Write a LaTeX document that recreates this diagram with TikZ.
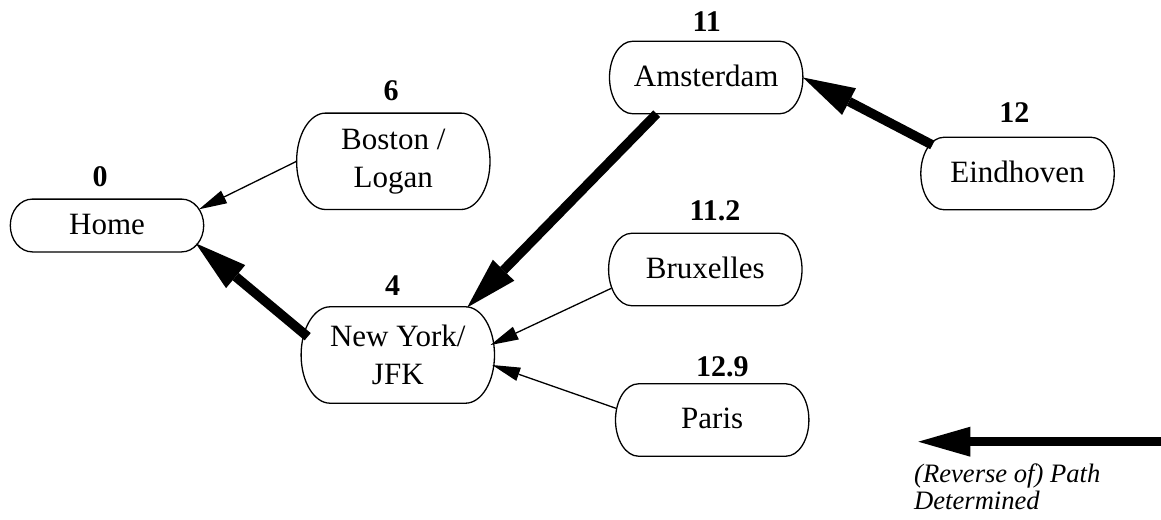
\documentclass[tikz,border=0pt]{standalone}
\usepackage{fontspec}
\setmainfont{Liberation Serif}
\usetikzlibrary{arrows.meta,calc}

% outline with half-elliptic ends: #1 node name, #2 horizontal radius of the ends
\newcommand\capsuleoutline[2]{%
  \draw[outline] let \p1=(#1.north west), \p2=(#1.south east), \n1={(\y1-\y2)/2} in
    (\x1+#2pt,\y1) -- (\x2-#2pt,\y1)
    arc[start angle=90,end angle=-90,x radius=#2pt,y radius=\n1]
    -- (\x1+#2pt,\y2)
    arc[start angle=270,end angle=90,x radius=#2pt,y radius=\n1] -- cycle;}

\tikzset{
  place/.style={inner sep=0pt, minimum width=193pt, align=center,
    font=\fontsize{31}{37.7}\selectfont},
  oneline/.style={place, minimum height=72pt, text height=22.5pt, text depth=5.5pt},
  twoline/.style={place, minimum height=96pt},
  cost/.style={anchor=base, inner sep=0pt, font=\fontsize{30}{36}\selectfont\bfseries},
  outline/.style={draw=black, line width=1.3pt},
  thinlink/.style={draw, line width=1.3pt,
    -{Triangle[length=28pt,width=14pt,line width'=0pt]}},
  pathlink/.style={draw, line width=9.5pt,
    -{Triangle[length=52pt,width=30pt,line width'=0pt]}},
}

\begin{document}
\begin{tikzpicture}[x=1pt,y=1pt]
\useasboundingbox (0,0) rectangle (1161,-519);

% places
\node[oneline, minimum height=52.4pt] (home) at (107,-225.5) {Home};
\node[twoline] (boston) at (393.3,-161.3) {Boston /\\Logan};
\node[twoline] (jfk) at (397.8,-355) {New York/\\JFK};
\node[oneline] (ams) at (706.2,-77.5) {Amsterdam};
\node[oneline] (ein) at (1017.5,-173.5) {Eindhoven};
\node[oneline] (bru) at (705.3,-269.5) {Bruxelles};
\node[oneline] (par) at (712.2,-420) {Paris};

\capsuleoutline{home}{22}
\capsuleoutline{boston}{29}
\capsuleoutline{jfk}{29}
\capsuleoutline{ams}{23}
\capsuleoutline{ein}{23}
\capsuleoutline{bru}{23}
\capsuleoutline{par}{23}

% distances
\node[cost] (c0) at (100,-186) {0};
\node[cost] (c6) at (391,-100) {6};
\node[cost] (c4) at (392.7,-295) {4};
\node[cost] (c11) at (706.7,-31.7) {11};
\node[cost] (c12) at (1014.3,-122.7) {12};
\node[cost] (c112) at (715,-220) {11.2};
\node[cost] (c129) at (722.3,-376) {12.9};

% links
\draw[thinlink] (boston.west) -- ([shift={(-4.7,16.2)}]home.east);
\draw[pathlink] ([shift={(6.6,18.3)}]jfk.west) -- ([shift={(-8,-17.8)}]home.east);
\draw[pathlink] ([xshift=-49.5pt]ams.south) -- ([shift={(-27.3,-0.6)}]jfk.north east);
\draw[pathlink] ([shift={(11.6,28.5)}]ein.west) -- (ams.east);
\draw[thinlink] ([shift={(2.7,-18.8)}]bru.west) -- ([shift={(-4,10)}]jfk.east);
\draw[thinlink] ([shift={(0.5,11.7)}]par.west) -- ([shift={(-2.3,-10)}]jfk.east);

% key
\coordinate (keyfrom) at (1161,-441.7);
\coordinate (keyto) at (918.3,-441.7);
\draw[pathlink] (keyfrom) -- (keyto);
\node[anchor=north west, inner sep=0pt, align=left,
  font=\fontsize{26.6}{27.5}\selectfont\itshape] (keytext) at (914,-463.3)
  {(Reverse of) Path\\Determined};
\end{tikzpicture}
\end{document}
